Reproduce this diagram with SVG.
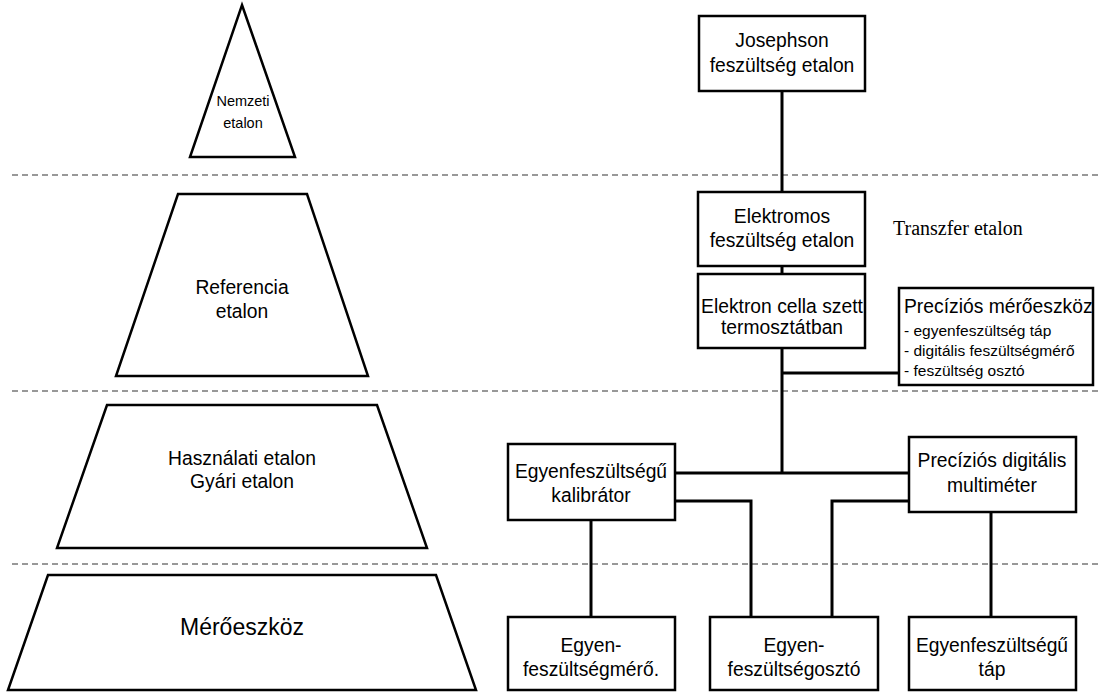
<svg xmlns="http://www.w3.org/2000/svg" width="1099" height="692" viewBox="0 0 1099 692">
<style>
.shape{fill:#fff;stroke:#000;stroke-width:2.5;stroke-linejoin:miter}
.box{fill:#fff;stroke:#000;stroke-width:2.5}
.dash{stroke:#333;stroke-width:1.2;stroke-dasharray:6 4;fill:none}
.con{stroke:#000;stroke-width:3;fill:none}
text{font-family:"Liberation Sans",Arial,sans-serif;fill:#000}
.c{text-anchor:middle}
.t19{font-size:19.3px}
.t16{font-size:15.5px}
.serif{font-family:"Liberation Serif","Times New Roman",serif;font-size:20px}
</style>
<rect width="1099" height="692" fill="#fff"/>
<g id="levels">
<line class="dash" x1="12" y1="175" x2="1099" y2="175"/>
<line class="dash" x1="12" y1="391" x2="1099" y2="391"/>
<line class="dash" x1="12" y1="564" x2="1099" y2="564"/>
</g>
<g id="nemzeti">
<polygon class="shape" points="242,5 295,157 190,157"/>
<text class="c" x="243" y="106" font-size="14.5">Nemzeti</text>
<text class="c" x="243" y="128" font-size="14.5">etalon</text>
</g>
<g id="referencia">
<polygon class="shape" points="178,194 307,194 368,376 116,376"/>
<text class="c t19" x="242" y="294">Referencia</text>
<text class="c t19" x="242" y="318">etalon</text>
</g>
<g id="hasznalati">
<polygon class="shape" points="107,405 377,405 427,548 57,548"/>
<text class="c t19" x="242" y="465">Használati etalon</text>
<text class="c t19" x="242" y="488">Gyári etalon</text>
</g>
<g id="meroeszkoz">
<polygon class="shape" points="48,575 436,575 476,690 8,690"/>
<text class="c" x="242" y="635" font-size="23">Mérőeszköz</text>
</g>
<g id="connectors">
<line class="con" x1="782" y1="91" x2="782" y2="192"/>
<line class="con" x1="782" y1="266" x2="782" y2="274"/>
<line class="con" x1="782" y1="348" x2="782" y2="473"/>
<line class="con" x1="782" y1="373" x2="899" y2="373"/>
<line class="con" x1="675" y1="473" x2="909" y2="473"/>
<polyline class="con" points="675,501 751,501 751,617"/>
<polyline class="con" points="909,501 832,501 832,617"/>
<line class="con" x1="591" y1="520" x2="591" y2="617"/>
<line class="con" x1="991" y1="512" x2="991" y2="617"/>
</g>
<g id="josephson">
<rect class="box" x="699" y="16" width="166" height="75"/>
<text class="c t19" x="782" y="47">Josephson</text>
<text class="c t19" x="782" y="72">feszültség etalon</text>
</g>
<g id="elektromos">
<rect class="box" x="698" y="192" width="167" height="74"/>
<text class="c t19" x="782" y="223">Elektromos</text>
<text class="c t19" x="782" y="247">feszültség etalon</text>
</g>
<g id="transzfer">
<text class="serif" x="893" y="235">Transzfer etalon</text>
</g>
<g id="elektron">
<rect class="box" x="698" y="274" width="167" height="74"/>
<text class="c t19" x="782" y="313">Elektron cella szett</text>
<text class="c t19" x="782" y="334">termosztátban</text>
</g>
<g id="precizios">
<rect class="box" x="899" y="288" width="194" height="97"/>
<text class="t19" x="904" y="313">Precíziós mérőeszköz</text>
<text class="t16" x="904" y="336">- egyenfeszültség táp</text>
<text class="t16" x="904" y="356">- digitális feszültségmérő</text>
<text class="t16" x="904" y="376">- feszültség osztó</text>
</g>
<g id="kalibrator">
<rect class="box" x="508" y="444" width="167" height="76"/>
<text class="c t19" x="591" y="478">Egyenfeszültségű</text>
<text class="c t19" x="591" y="502">kalibrátor</text>
</g>
<g id="multimeter">
<rect class="box" x="909" y="437" width="167" height="75"/>
<text class="c t19" x="992" y="467">Precíziós digitális</text>
<text class="c t19" x="992" y="492">multiméter</text>
</g>
<g id="mero">
<rect class="box" x="508" y="617" width="167" height="73"/>
<text class="c t19" x="591" y="652">Egyen-</text>
<text class="c t19" x="591" y="676">feszültségmérő.</text>
</g>
<g id="oszto">
<rect class="box" x="710" y="617" width="168" height="73"/>
<text class="c t19" x="794" y="652">Egyen-</text>
<text class="c t19" x="794" y="676">feszültségosztó</text>
</g>
<g id="tap">
<rect class="box" x="909" y="617" width="167" height="73"/>
<text class="c t19" x="992" y="652">Egyenfeszültségű</text>
<text class="c t19" x="992" y="676">táp</text>
</g>
</svg>
